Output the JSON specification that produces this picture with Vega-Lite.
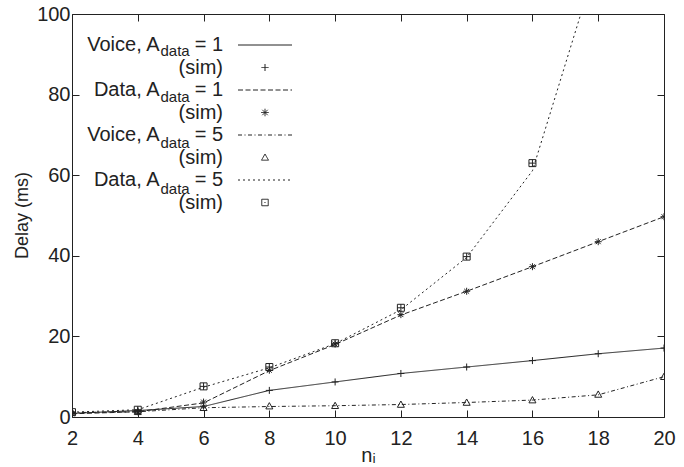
{
  "$schema": "https://vega.github.io/schema/vega-lite/v6.json",
  "width": 592,
  "height": 403,
  "autosize": "none",
  "padding": {"left": 72, "top": 14, "right": 20, "bottom": 50},
  "background": "white",
  "config": {
    "view": {"stroke": null},
    "font": "Liberation Sans, Arial, sans-serif",
    "axis": {
      "domainColor": "#222", "domainWidth": 1,
      "tickColor": "#222", "tickWidth": 1, "tickSize": -7,
      "labelFont": "Liberation Sans, Arial, sans-serif",
      "titleFont": "Liberation Sans, Arial, sans-serif",
      "labelFontSize": 20, "labelColor": "#222",
      "titleFontSize": 18, "titleColor": "#222", "titleFontWeight": "normal",
      "grid": false, "labelFlush": false
    },
    "legend": {
      "labelFont": "Liberation Sans, Arial, sans-serif",
      "labelColor": "#222"
    }
  },
  "data": {
    "values": [
      {"series": "Voice1", "entry": "Voice, Adata = 1", "kind": "model", "n": 2, "delay": 0.9},
      {"series": "Voice1", "entry": "Voice, Adata = 1", "kind": "model", "n": 4, "delay": 1.6},
      {"series": "Voice1", "entry": "Voice, Adata = 1", "kind": "model", "n": 6, "delay": 2.6},
      {"series": "Voice1", "entry": "Voice, Adata = 1", "kind": "model", "n": 8, "delay": 6.6},
      {"series": "Voice1", "entry": "Voice, Adata = 1", "kind": "model", "n": 10, "delay": 8.7},
      {"series": "Voice1", "entry": "Voice, Adata = 1", "kind": "model", "n": 12, "delay": 10.8},
      {"series": "Voice1", "entry": "Voice, Adata = 1", "kind": "model", "n": 14, "delay": 12.4},
      {"series": "Voice1", "entry": "Voice, Adata = 1", "kind": "model", "n": 16, "delay": 14.0},
      {"series": "Voice1", "entry": "Voice, Adata = 1", "kind": "model", "n": 18, "delay": 15.7},
      {"series": "Voice1", "entry": "Voice, Adata = 1", "kind": "model", "n": 20, "delay": 17.1},
      {"series": "Data1", "entry": "Data, Adata = 1", "kind": "model", "n": 2, "delay": 0.8},
      {"series": "Data1", "entry": "Data, Adata = 1", "kind": "model", "n": 4, "delay": 1.3},
      {"series": "Data1", "entry": "Data, Adata = 1", "kind": "model", "n": 6, "delay": 3.5},
      {"series": "Data1", "entry": "Data, Adata = 1", "kind": "model", "n": 8, "delay": 11.5},
      {"series": "Data1", "entry": "Data, Adata = 1", "kind": "model", "n": 10, "delay": 18.0},
      {"series": "Data1", "entry": "Data, Adata = 1", "kind": "model", "n": 12, "delay": 25.3},
      {"series": "Data1", "entry": "Data, Adata = 1", "kind": "model", "n": 14, "delay": 31.2},
      {"series": "Data1", "entry": "Data, Adata = 1", "kind": "model", "n": 16, "delay": 37.3},
      {"series": "Data1", "entry": "Data, Adata = 1", "kind": "model", "n": 18, "delay": 43.5},
      {"series": "Data1", "entry": "Data, Adata = 1", "kind": "model", "n": 20, "delay": 49.7},
      {"series": "Voice5", "entry": "Voice, Adata = 5", "kind": "model", "n": 2, "delay": 1.1},
      {"series": "Voice5", "entry": "Voice, Adata = 5", "kind": "model", "n": 4, "delay": 1.3},
      {"series": "Voice5", "entry": "Voice, Adata = 5", "kind": "model", "n": 6, "delay": 2.3},
      {"series": "Voice5", "entry": "Voice, Adata = 5", "kind": "model", "n": 8, "delay": 2.6},
      {"series": "Voice5", "entry": "Voice, Adata = 5", "kind": "model", "n": 10, "delay": 2.8},
      {"series": "Voice5", "entry": "Voice, Adata = 5", "kind": "model", "n": 12, "delay": 3.1},
      {"series": "Voice5", "entry": "Voice, Adata = 5", "kind": "model", "n": 14, "delay": 3.6},
      {"series": "Voice5", "entry": "Voice, Adata = 5", "kind": "model", "n": 16, "delay": 4.2},
      {"series": "Voice5", "entry": "Voice, Adata = 5", "kind": "model", "n": 18, "delay": 5.5},
      {"series": "Voice5", "entry": "Voice, Adata = 5", "kind": "model", "n": 20, "delay": 10.0},
      {"series": "Data5", "entry": "Data, Adata = 5", "kind": "model", "n": 2, "delay": 1.2},
      {"series": "Data5", "entry": "Data, Adata = 5", "kind": "model", "n": 4, "delay": 1.8},
      {"series": "Data5", "entry": "Data, Adata = 5", "kind": "model", "n": 6, "delay": 7.4},
      {"series": "Data5", "entry": "Data, Adata = 5", "kind": "model", "n": 8, "delay": 12.2},
      {"series": "Data5", "entry": "Data, Adata = 5", "kind": "model", "n": 10, "delay": 18.2},
      {"series": "Data5", "entry": "Data, Adata = 5", "kind": "model", "n": 12, "delay": 26.6},
      {"series": "Data5", "entry": "Data, Adata = 5", "kind": "model", "n": 14, "delay": 39.6},
      {"series": "Data5", "entry": "Data, Adata = 5", "kind": "model", "n": 16, "delay": 61.1},
      {"series": "Data5", "entry": "Data, Adata = 5", "kind": "model", "n": 18, "delay": 114},
      {"series": "Voice1", "entry": "Voice, Adata = 1 (sim)", "kind": "sim", "n": 2, "delay": 0.9},
      {"series": "Voice1", "entry": "Voice, Adata = 1 (sim)", "kind": "sim", "n": 4, "delay": 1.6},
      {"series": "Voice1", "entry": "Voice, Adata = 1 (sim)", "kind": "sim", "n": 6, "delay": 2.7},
      {"series": "Voice1", "entry": "Voice, Adata = 1 (sim)", "kind": "sim", "n": 8, "delay": 6.6},
      {"series": "Voice1", "entry": "Voice, Adata = 1 (sim)", "kind": "sim", "n": 10, "delay": 8.7},
      {"series": "Voice1", "entry": "Voice, Adata = 1 (sim)", "kind": "sim", "n": 12, "delay": 10.8},
      {"series": "Voice1", "entry": "Voice, Adata = 1 (sim)", "kind": "sim", "n": 14, "delay": 12.4},
      {"series": "Voice1", "entry": "Voice, Adata = 1 (sim)", "kind": "sim", "n": 16, "delay": 14.0},
      {"series": "Voice1", "entry": "Voice, Adata = 1 (sim)", "kind": "sim", "n": 18, "delay": 15.7},
      {"series": "Voice1", "entry": "Voice, Adata = 1 (sim)", "kind": "sim", "n": 20, "delay": 17.1},
      {"series": "Data1", "entry": "Data, Adata = 1 (sim)", "kind": "sim", "n": 2, "delay": 0.8},
      {"series": "Data1", "entry": "Data, Adata = 1 (sim)", "kind": "sim", "n": 4, "delay": 1.3},
      {"series": "Data1", "entry": "Data, Adata = 1 (sim)", "kind": "sim", "n": 6, "delay": 3.7},
      {"series": "Data1", "entry": "Data, Adata = 1 (sim)", "kind": "sim", "n": 8, "delay": 11.6},
      {"series": "Data1", "entry": "Data, Adata = 1 (sim)", "kind": "sim", "n": 10, "delay": 18.1},
      {"series": "Data1", "entry": "Data, Adata = 1 (sim)", "kind": "sim", "n": 12, "delay": 25.4},
      {"series": "Data1", "entry": "Data, Adata = 1 (sim)", "kind": "sim", "n": 14, "delay": 31.2},
      {"series": "Data1", "entry": "Data, Adata = 1 (sim)", "kind": "sim", "n": 16, "delay": 37.3},
      {"series": "Data1", "entry": "Data, Adata = 1 (sim)", "kind": "sim", "n": 18, "delay": 43.5},
      {"series": "Data1", "entry": "Data, Adata = 1 (sim)", "kind": "sim", "n": 20, "delay": 49.7},
      {"series": "Voice5", "entry": "Voice, Adata = 5 (sim)", "kind": "sim", "n": 2, "delay": 1.2},
      {"series": "Voice5", "entry": "Voice, Adata = 5 (sim)", "kind": "sim", "n": 4, "delay": 1.3},
      {"series": "Voice5", "entry": "Voice, Adata = 5 (sim)", "kind": "sim", "n": 6, "delay": 2.3},
      {"series": "Voice5", "entry": "Voice, Adata = 5 (sim)", "kind": "sim", "n": 8, "delay": 2.7},
      {"series": "Voice5", "entry": "Voice, Adata = 5 (sim)", "kind": "sim", "n": 10, "delay": 2.8},
      {"series": "Voice5", "entry": "Voice, Adata = 5 (sim)", "kind": "sim", "n": 12, "delay": 3.1},
      {"series": "Voice5", "entry": "Voice, Adata = 5 (sim)", "kind": "sim", "n": 14, "delay": 3.6},
      {"series": "Voice5", "entry": "Voice, Adata = 5 (sim)", "kind": "sim", "n": 16, "delay": 4.2},
      {"series": "Voice5", "entry": "Voice, Adata = 5 (sim)", "kind": "sim", "n": 18, "delay": 5.6},
      {"series": "Voice5", "entry": "Voice, Adata = 5 (sim)", "kind": "sim", "n": 20, "delay": 10.0},
      {"series": "Data5", "entry": "Data, Adata = 5 (sim)", "kind": "sim", "n": 2, "delay": 1.2},
      {"series": "Data5", "entry": "Data, Adata = 5 (sim)", "kind": "sim", "n": 4, "delay": 1.8},
      {"series": "Data5", "entry": "Data, Adata = 5 (sim)", "kind": "sim", "n": 6, "delay": 7.6},
      {"series": "Data5", "entry": "Data, Adata = 5 (sim)", "kind": "sim", "n": 8, "delay": 12.4},
      {"series": "Data5", "entry": "Data, Adata = 5 (sim)", "kind": "sim", "n": 10, "delay": 18.3},
      {"series": "Data5", "entry": "Data, Adata = 5 (sim)", "kind": "sim", "n": 12, "delay": 27.1},
      {"series": "Data5", "entry": "Data, Adata = 5 (sim)", "kind": "sim", "n": 14, "delay": 39.8},
      {"series": "Data5", "entry": "Data, Adata = 5 (sim)", "kind": "sim", "n": 16, "delay": 63.0}
    ]
  },
  "resolve": {"axis": {"x": "independent", "y": "independent"}},
  "layer": [
    {
      "transform": [{"filter": "datum.kind == 'model'"}],
      "mark": {"type": "line", "clip": true},
      "encoding": {
        "x": {
          "field": "n", "type": "quantitative",
          "scale": {"domain": [2, 20], "nice": false, "zero": false},
          "axis": {"orient": "bottom", "values": [2, 4, 6, 8, 10, 12, 14, 16, 18, 20], "title": "nᵢ",
                   "labelPadding": 18, "titleX": 296, "titleY": 38, "titleBaseline": "middle", "titleAlign": "center", "titleFontSize": 20}
        },
        "y": {
          "field": "delay", "type": "quantitative",
          "scale": {"domain": [0, 100], "nice": false, "zero": false},
          "axis": {"orient": "left", "values": [0, 20, 40, 60, 80, 100], "title": "Delay (ms)",
                   "labelPadding": 9, "titleX": -50, "titleY": 201, "titleBaseline": "middle", "titleAlign": "center", "titleAngle": -90}
        },
        "color": {
          "field": "entry", "type": "nominal",
          "scale": {
            "domain": ["Voice, Adata = 1", "Voice, Adata = 1 (sim)", "Data, Adata = 1", "Data, Adata = 1 (sim)",
                       "Voice, Adata = 5", "Voice, Adata = 5 (sim)", "Data, Adata = 5", "Data, Adata = 5 (sim)"],
            "range": ["#222", "#222", "#222", "#222", "#222", "#222", "#222", "#222"]
          },
          "legend": {
            "orient": "none", "legendX": 165.5, "legendY": 20, "title": null, "padding": 0,
            "rowPadding": 1.5, "symbolSize": 2916, "symbolStrokeWidth": 1,
            "labelAlign": "right", "labelOffset": -69.5, "labelFontSize": 20, "labelLimit": 0,
            "labelExpr": "indexof(datum.label,'(sim)')>=0 ? '(sim)' : slice(datum.label,-3)",
            "encode": {
              "labels": {
                "update": {"y": {"value": 11}}
              },
              "symbols": {
                "update": {
                  "y": {"value": 11},
                  "shape": {"signal": "indexof(datum.value,'(sim)')<0 ? 'M-1,0H1' : indexof(datum.value,'Voice, Adata = 1')==0 ? 'M-0.13,0H0.13M0,-0.13V0.13' : indexof(datum.value,'Data, Adata = 1')==0 ? 'M-0.14,0H0.14M0,-0.14V0.14M-0.1,-0.1L0.1,0.1M-0.1,0.1L0.1,-0.1' : indexof(datum.value,'Voice')==0 ? 'M0,-0.13L0.13,0.1H-0.13Z' : 'M-0.12,-0.12H0.12V0.12H-0.12ZM-0.02,0H0.02'"},
                  "strokeDash": {"signal": "indexof(datum.value,'(sim)')>=0 ? [1,0] : indexof(datum.value,'Voice, Adata = 1')==0 ? [1,0] : indexof(datum.value,'Data, Adata = 1')==0 ? [5,2.5] : indexof(datum.value,'Voice')==0 ? [4,2.5,1,2.5] : [2,3]"},
                  "stroke": {"value": "#222"},
                  "fill": {"value": "transparent"},
                  "strokeWidth": {"value": 1},
                  "opacity": {"value": 1}
                }
              }
            }
          }
        },
        "strokeDash": {
          "field": "series", "type": "nominal",
          "scale": {"domain": ["Voice1", "Data1", "Voice5", "Data5"], "range": [[1, 0], [5, 2.5], [4, 2.5, 1, 2.5], [2, 3]]},
          "legend": null
        },
        "strokeWidth": {
          "field": "series", "type": "nominal",
          "scale": {"domain": ["Voice5", "Data5", "Voice1", "Data1"], "range": [1, 1]},
          "legend": {
            "orient": "none", "legendX": 67.5, "legendY": 21, "title": null, "padding": 0,
            "rowPadding": 25, "symbolSize": 0, "symbolStrokeWidth": 0, "symbolOpacity": 0,
            "labelAlign": "right", "labelOffset": 0, "labelFontSize": 20, "labelLimit": 0,
            "labelExpr": "indexof(datum.label,'Voice')==0 ? 'Voice, A' : 'Data, A'"
          }
        }
      }
    },
    {
      "transform": [{"filter": "datum.kind == 'sim'"}],
      "mark": {"type": "point", "filled": false, "strokeWidth": 1, "size": 49, "clip": true},
      "encoding": {
        "x": {
          "field": "n", "type": "quantitative",
          "axis": {"orient": "top", "values": [2, 4, 6, 8, 10, 12, 14, 16, 18, 20], "labels": false, "title": null}
        },
        "y": {
          "field": "delay", "type": "quantitative",
          "axis": {"orient": "right", "values": [0, 20, 40, 60, 80, 100], "labels": false, "title": null}
        },
        "color": {"field": "entry", "type": "nominal"},
        "shape": {
          "field": "series", "type": "nominal",
          "scale": {
            "domain": ["Voice1", "Data1", "Voice5", "Data5"],
            "range": ["M-1,0H1M0,-1V1", "M-1,0H1M0,-1V1M-0.7,-0.7L0.7,0.7M-0.7,0.7L0.7,-0.7", "M0,-1L1,0.8H-1Z", "M-1,-1H1V1H-1ZM-1,0H1M0,-1V1"]
          },
          "legend": null
        },
        "opacity": {
          "field": "series", "type": "nominal",
          "scale": {"domain": ["Data1", "Voice1", "Data5", "Voice5"], "range": [1, 1]},
          "legend": {
            "orient": "none", "legendX": 73.5, "legendY": 29, "title": null, "padding": 0,
            "rowPadding": 30, "symbolSize": 0, "symbolStrokeWidth": 0, "symbolOpacity": 0,
            "labelAlign": "left", "labelOffset": 0, "labelFontSize": 15, "labelLimit": 0,
            "labelExpr": "'data'"
          }
        }
      }
    }
  ]
}
